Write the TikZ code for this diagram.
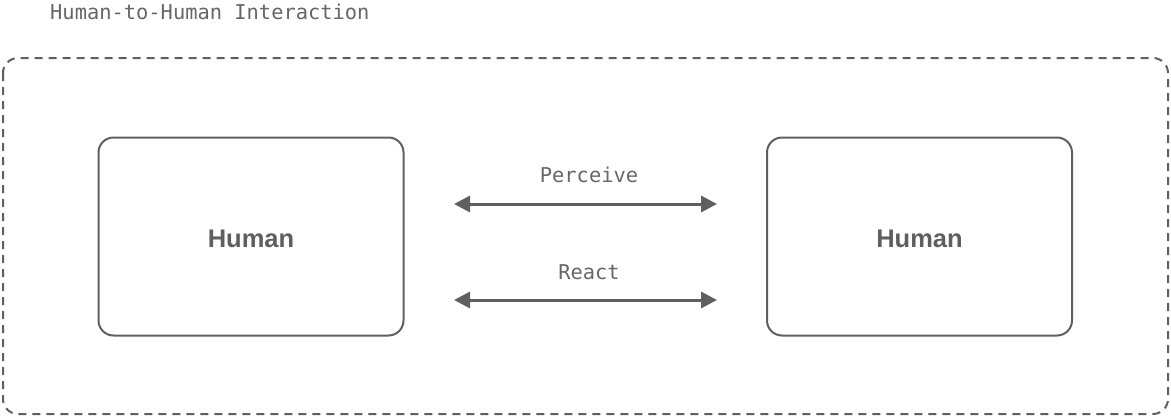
\documentclass[tikz,border=0pt]{standalone}
\usepackage{fontspec}
\setmainfont{Liberation Sans}
\newfontfamily\monofont{DejaVu Sans Mono}
\usetikzlibrary{arrows.meta}
\definecolor{ink}{HTML}{5F5F5F}
\definecolor{lbl}{HTML}{666666}
\tikzset{
  humanbox/.style={draw=ink, line width=2pt, rounded corners=15pt, minimum width=305pt, minimum height=198pt, inner sep=0pt},
  humantext/.style={font=\fontsize{25.5}{29}\selectfont\bfseries, text=ink},
  outerbox/.style={draw=ink, line width=2pt, dash pattern=on 8pt off 6pt, rounded corners=15pt},
  monolbl/.style={font=\monofont\fontsize{20.4}{24}\selectfont, text=lbl, inner sep=0pt},
  dblarrow/.style={draw=ink, line width=3pt, {Triangle[length=16pt,width=16pt]}-{Triangle[length=16pt,width=16pt]}}
}
\begin{document}
\begin{tikzpicture}[x=1pt,y=-1pt]
\useasboundingbox (0,0) rectangle (1171,418);
\node[monolbl, anchor=west] (title) at (50,12) {Human-to-Human Interaction};
\draw[outerbox] (3,58) rectangle (1168,414);
\node[humanbox] (h1) at (251,236.5) {};
\node[humanbox] (h2) at (919.5,236.5) {};
\node[humantext] (t1) at ([yshift=-2pt]h1.center) {Human};
\node[humantext] (t2) at ([yshift=-2pt]h2.center) {Human};
\coordinate (p1) at (454,204);
\coordinate (p2) at (717,204);
\coordinate (r1) at (454,300);
\coordinate (r2) at (717,300);
\draw[dblarrow] (p1) -- (p2);
\draw[dblarrow] (r1) -- (r2);
\node[monolbl] (perc) at (589,175) {Perceive};
\node[monolbl] (react) at (589,272) {React};
\end{tikzpicture}
\end{document}
